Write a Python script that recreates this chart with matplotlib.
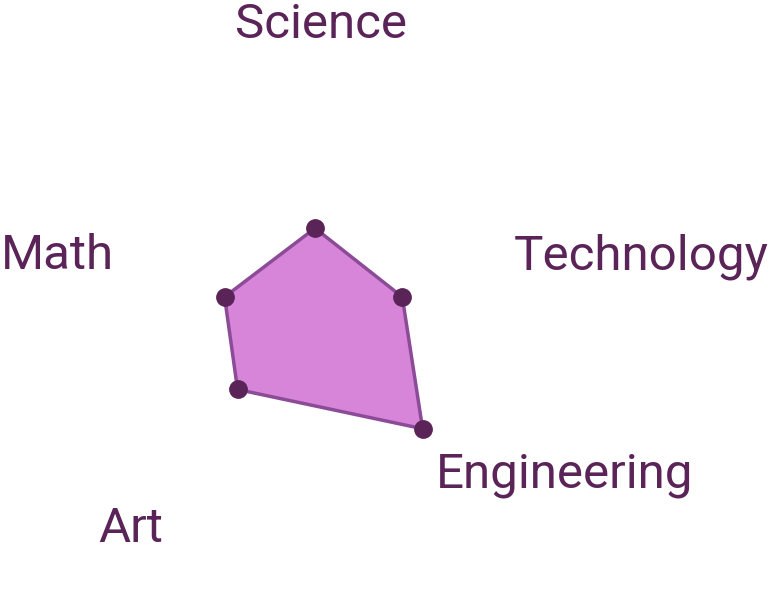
import numpy as np
import matplotlib.pyplot as plt

# categories and scores
categories = ['Science', 'Technology', 'Engineering', 'Art', 'Math']
scores = [60, 59, 100, 68, 61]

# axis directions (degrees) as drawn in the original
axis_angles = [90, 14.8, -45.3, -138.1, 165.7]

text_color = '#5b2459'
fill_color = '#d685d9'
edge_color = '#8c4b97'
font = ['Liberation Sans Narrow', 'Roboto', 'DejaVu Sans']

W, H = 771, 591
fig = plt.figure(figsize=(W / 100, H / 100), dpi=100)

# polar axes centred at pixel (315, 320), radius 200 px
cx, cy, rad = 315, 320, 200
ax = fig.add_axes([(cx - rad) / W, (H - cy - rad) / H, 2 * rad / W, 2 * rad / H],
                  projection='polar')
ax.set_ylim(0, 100 * rad / 153)
ax.set_axis_off()

theta = np.deg2rad(axis_angles)
t_closed = np.append(theta, theta[0])
r_closed = np.append(scores, scores[0])
ax.fill(t_closed, r_closed, color=fill_color, zorder=1)
ax.plot(t_closed, r_closed, color=edge_color, lw=2.5, zorder=2)
ax.plot(theta, scores, 'o', color=text_color, ms=12.5, zorder=3)

# axis labels (pixel anchors: x, baseline y, alignment)
label_pos = {
    'Science': (321, 38, 'center'),
    'Technology': (769, 269, 'right'),
    'Engineering': (436, 487, 'left'),
    'Art': (163, 542, 'right'),
    'Math': (1, 269, 'left'),
}
for name in categories:
    x, y, ha = label_pos[name]
    fig.text(x / W, 1 - y / H, name, ha=ha, va='baseline', fontsize=35.5,
             color=text_color, family=font)

fig.savefig('out.png', dpi=100)
